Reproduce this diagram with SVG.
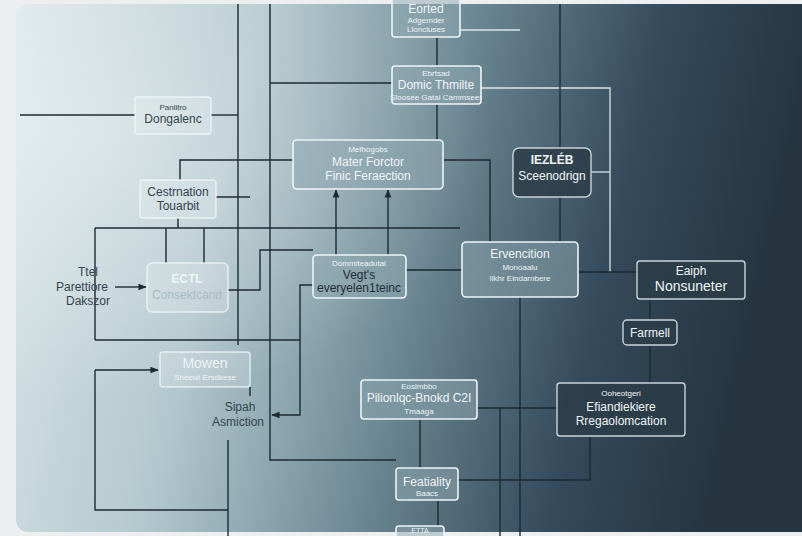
<svg xmlns="http://www.w3.org/2000/svg" width="802" height="536" viewBox="0 0 802 536">
<defs>
<linearGradient id="bg" x1="0" y1="0" x2="1" y2="0.15">
<stop offset="0" stop-color="#dce7ea"/>
<stop offset="0.3" stop-color="#b3c8ce"/>
<stop offset="0.55" stop-color="#6f8b97"/>
<stop offset="0.8" stop-color="#34495a"/>
<stop offset="1" stop-color="#25343f"/>
</linearGradient>
<radialGradient id="glow" cx="0.1" cy="0.25" r="0.5">
<stop offset="0" stop-color="#ffffff" stop-opacity="0.35"/>
<stop offset="1" stop-color="#ffffff" stop-opacity="0"/>
</radialGradient>
<marker id="arr" viewBox="0 0 10 10" refX="9" refY="5" markerWidth="6" markerHeight="6" orient="auto-start-reverse">
<path d="M0,1 L10,5 L0,9 z" fill="#1c2a32"/>
</marker>
</defs>
<style>
.ln{fill:none;stroke:#1c2a32;stroke-width:1.4}
.lt{fill:none;stroke:#dbe5e9;stroke-width:1.3}
.bl{fill:#ffffff;fill-opacity:0.18;stroke:#f4f8f9;stroke-opacity:0.75;stroke-width:1.5}
.bm{fill:#8fa8b2;fill-opacity:0.5;stroke:#eef4f6;stroke-width:1.6}
.bd{fill:#2b3d49;fill-opacity:0.85;stroke:#c9d4d9;stroke-width:1.4}
text{font-family:"Liberation Sans",Arial,sans-serif;text-anchor:middle}
.td{fill:#34444c}
.tw{fill:#eef4f6}
.s{font-size:8px}
.m{font-size:12px}
.l{font-size:14px}
</style>
<rect width="802" height="536" fill="#eceef0"/>
<rect x="16" y="4" width="800" height="528" rx="12" fill="url(#bg)"/>
<rect x="16" y="4" width="800" height="528" rx="12" fill="url(#glow)"/>

<g id="connectors">
<path class="ln" d="M238,4 V345"/>
<path class="ln" d="M270,4 V460 H396"/>
<path class="ln" d="M228,440 V536"/>
<path class="lt" d="M460,30 H520"/>
<path class="ln" d="M437,37 V66"/>
<path class="ln" d="M270,83 H392"/>
<path class="lt" d="M481,88 H610 V272"/>
<path class="ln" d="M437,104 V140"/>
<path class="ln" d="M20,115 H135"/>
<path class="ln" d="M211,115 H238"/>
<path class="ln" d="M293,160 H180 V180"/>
<path class="ln" d="M443,160 H490 V242"/>
<path class="ln" d="M560,4 V148"/>
<path class="ln" d="M560,197 V242"/>
<path class="lt" d="M591,172 H610"/>
<path class="ln" d="M216,197 H250"/>
<path class="ln" d="M178,218 V228"/>
<path class="ln" d="M95,228 H460"/>
<path class="ln" d="M166,228 V263"/>
<path class="ln" d="M204,228 V263"/>
<path class="ln" d="M95,228 V340"/>
<path class="ln" d="M336,255 V190" marker-end="url(#arr)"/>
<path class="ln" d="M388,255 V190" marker-end="url(#arr)"/>
<path class="ln" d="M115,287 H146" marker-end="url(#arr)"/>
<path class="ln" d="M228,290 H260 V250 H313"/>
<path class="ln" d="M313,285 H300 V415 H272" marker-end="url(#arr)"/>
<path class="ln" d="M406,270 H462"/>
<path class="ln" d="M578,272 H637"/>
<path class="ln" d="M650,299 V320"/>
<path class="ln" d="M650,345 V383"/>
<path class="ln" d="M95,340 H300"/>
<path class="ln" d="M95,370 H158" marker-end="url(#arr)"/>
<path class="ln" d="M95,370 V510 H228"/>
<path class="ln" d="M250,387 V396"/>
<path class="ln" d="M520,297 V536"/>
<path class="ln" d="M477,408 H557"/>
<path class="ln" d="M500,408 V536"/>
<path class="ln" d="M458,480 H590 V436"/>
<path class="ln" d="M420,419 V468"/>
<path class="ln" d="M438,500 V526"/>
</g>

<g id="n-eorted">
<rect class="bm" x="392" y="-6" width="68" height="43" rx="3"/>
<text class="tw m" x="426" y="13">Eorted</text>
<text class="tw s" x="426" y="23">Adgemder</text>
<text class="tw s" x="426" y="32">Lioncluses</text>
</g>
<g id="n-domic">
<rect class="bm" x="392" y="66" width="89" height="38" rx="3"/>
<text class="tw s" x="436" y="76">Ebrtsad</text>
<text class="tw m" x="436" y="89">Domic Thmilte</text>
<text class="tw s" x="436" y="100">Sloosee Gatal Cammseer</text>
</g>
<g id="n-panlitro">
<rect class="bl" x="135" y="97" width="76" height="37" rx="3"/>
<text class="td s" x="173" y="110">Panlitro</text>
<text class="td m" x="173" y="123">Dongalenc</text>
</g>
<g id="n-mater">
<rect class="bm" x="293" y="140" width="150" height="49" rx="4"/>
<text class="tw s" x="368" y="152">Mefhogobs</text>
<text class="tw m" x="368" y="166">Mater Forctor</text>
<text class="tw m" x="368" y="180">Finic Feraection</text>
</g>
<g id="n-scenodrign">
<rect class="bd" x="513" y="148" width="78" height="49" rx="6"/>
<text class="tw m" x="552" y="164" font-weight="bold">IEZLÉB</text>
<text class="tw m" x="552" y="180">Sceenodrign</text>
</g>
<g id="n-cestrnation">
<rect class="bl" x="140" y="180" width="76" height="38" rx="3"/>
<text class="td m" x="178" y="196">Cestrnation</text>
<text class="td m" x="178" y="210">Touarbit</text>
</g>
<g id="n-ttel">
<text class="td m" x="88" y="276">Ttel</text>
<text class="td m" x="82" y="291">Parettiore</text>
<text class="td m" x="88" y="305">Dakszor</text>
</g>
<g id="n-ectl">
<rect class="bl" x="147" y="263" width="81" height="49" rx="5"/>
<text class="tw m" x="187" y="283" font-weight="bold">ECTL</text>
<text class="m" x="187" y="299" fill="#a7bcc3">Consektcand</text>
</g>
<g id="n-vegts">
<rect class="bm" x="313" y="255" width="93" height="43" rx="4"/>
<text class="tw s" x="359" y="266">Dommiteadutal</text>
<text class="m" x="359" y="279" fill="#1f2d35">Vegt's</text>
<text class="m" x="359" y="292" fill="#1f2d35">everyelen1teinc</text>
</g>
<g id="n-ervencition">
<rect class="bm" x="462" y="242" width="116" height="55" rx="4"/>
<text class="tw m" x="520" y="258">Ervencition</text>
<text class="tw s" x="520" y="270">Monoaalu</text>
<text class="tw s" x="520" y="281">Ilkhr Eindarnbere</text>
</g>
<g id="n-eaiph">
<rect class="bd" x="637" y="261" width="108" height="38" rx="3"/>
<text class="tw m" x="691" y="275">Eaiph</text>
<text class="tw l" x="691" y="291">Nonsuneter</text>
</g>
<g id="n-farmell">
<rect class="bd" x="623" y="320" width="54" height="25" rx="4"/>
<text class="tw m" x="650" y="337">Farmell</text>
</g>
<g id="n-mowen">
<rect class="bl" x="160" y="352" width="90" height="35" rx="3"/>
<text class="tw l" x="205" y="368">Mowen</text>
<text class="tw s" x="205" y="380">Sheewi Ersdkese</text>
</g>
<g id="n-sipah">
<text class="td m" x="240" y="411">Sipah</text>
<text class="td m" x="238" y="426">Asmiction</text>
</g>
<g id="n-pilionlqc">
<rect class="bm" x="361" y="380" width="116" height="39" rx="3"/>
<text class="tw s" x="419" y="389">Eoslmbbo</text>
<text class="tw m" x="419" y="402">Pilionlqc-Bnokd C2I</text>
<text class="tw s" x="419" y="414">Tmaaga</text>
</g>
<g id="n-efiandiekiere">
<rect class="bd" x="557" y="383" width="128" height="53" rx="3"/>
<text class="tw s" x="621" y="396">Ooheotgeri</text>
<text class="tw m" x="621" y="411">Efiandiekiere</text>
<text class="tw m" x="621" y="425">Rregaolomcation</text>
</g>
<g id="n-featiality">
<rect class="bm" x="396" y="468" width="62" height="32" rx="3"/>
<text class="tw m" x="427" y="486">Featiality</text>
<text class="tw s" x="427" y="496">Baacs</text>
</g>
<g id="n-etta">
<rect class="bm" x="396" y="526" width="48" height="20" rx="3"/>
<text class="tw" font-size="7" x="420" y="533">ETTA</text>
</g>
</svg>
